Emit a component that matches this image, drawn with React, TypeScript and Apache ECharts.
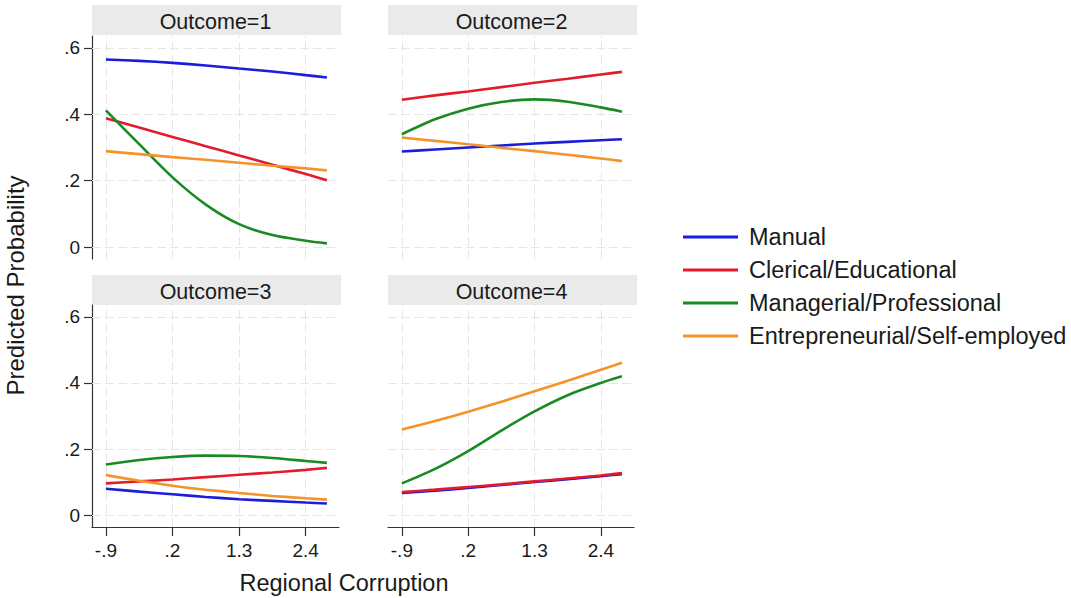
import React, { useEffect, useRef } from "react";
import * as echarts from "echarts";

// ---- data ----
const xPoints = [-0.9, -0.35, 0.2, 0.75, 1.3, 1.85, 2.4, 2.75];
const groups = [
  "Manual",
  "Clerical/Educational",
  "Managerial/Professional",
  "Entrepreneurial/Self-employed",
];
const panelTitles = ["Outcome=1", "Outcome=2", "Outcome=3", "Outcome=4"];
const xTicks = [-0.9, 0.2, 1.3, 2.4];
const yTicks = [0, 0.2, 0.4, 0.6];

// rows: Manual, Clerical, Managerial, Entrepreneurial
const outcome1 = [
  [0.565, 0.561, 0.555, 0.547, 0.538, 0.529, 0.518, 0.511],
  [0.388, 0.36, 0.332, 0.304, 0.276, 0.248, 0.22, 0.201],
  [0.412, 0.31, 0.21, 0.128, 0.069, 0.036, 0.019, 0.011],
  [0.289, 0.28, 0.271, 0.263, 0.254, 0.245, 0.237, 0.231],
];
const outcome2 = [
  [0.288, 0.294, 0.3, 0.306, 0.312, 0.317, 0.322, 0.325],
  [0.444, 0.457, 0.469, 0.482, 0.495, 0.507, 0.52, 0.528],
  [0.34, 0.385, 0.417, 0.437, 0.445, 0.438, 0.421, 0.408],
  [0.33, 0.32, 0.31, 0.299, 0.289, 0.278, 0.267, 0.259],
];
const outcome3 = [
  [0.08, 0.071, 0.063, 0.055, 0.048, 0.043, 0.038, 0.035],
  [0.096, 0.102, 0.108, 0.115, 0.122, 0.129, 0.137, 0.143],
  [0.153, 0.167, 0.176, 0.18, 0.179, 0.173, 0.164, 0.158],
  [0.121, 0.104, 0.089, 0.077, 0.067, 0.058, 0.051, 0.047],
];
const outcome4 = [
  [0.067, 0.074, 0.082, 0.091, 0.1, 0.109, 0.118, 0.124],
  [0.07, 0.077, 0.085, 0.093, 0.102, 0.111, 0.12, 0.127],
  [0.096, 0.14, 0.194, 0.256, 0.314, 0.363, 0.4, 0.42],
  [0.259, 0.285, 0.313, 0.343, 0.375, 0.407, 0.44, 0.461],
];
const panels = [outcome1, outcome2, outcome3, outcome4];

// ---- style / layout ----
const colors = ["#1c1cdc", "#e31b2b", "#1a8a22", "#f5922a"];
const FONT = "'Liberation Sans', Arial, Helvetica, sans-serif";
const grids = [
  { left: 92, top: 36, width: 247, height: 223 },
  { left: 388, top: 36, width: 246, height: 223 },
  { left: 92, top: 305, width: 247, height: 222 },
  { left: 388, top: 305, width: 246, height: 222 },
];
const headers = [
  { x: 92, y: 5, w: 249, h: 30 },
  { x: 388, y: 5, w: 249, h: 30 },
  { x: 92, y: 275, w: 249, h: 30 },
  { x: 388, y: 275, w: 249, h: 30 },
];

const fmt = (v: number) => {
  if (Math.abs(v) < 1e-9) return "0";
  const s = String(Math.round(v * 10) / 10);
  return s.replace(/^0\./, ".").replace(/^-0\./, "-.");
};

const gridLineStyle = { color: "#e6e6e6", width: 1, type: [9, 4] as any };

export default function App() {
  const ref = useRef<HTMLDivElement>(null);
  useEffect(() => {
    if (!ref.current) return;
    const chart = echarts.init(ref.current, undefined, { renderer: "svg" });

    const xAxis = grids.map((_, i) => {
      const bottom = i >= 2;
      return {
        type: "value",
        gridIndex: i,
        min: -1.13,
        max: 2.95,
        axisLine: { show: bottom, onZero: false, lineStyle: { color: "#333", width: 1.2 } },
        axisTick: {
          show: bottom,
          customValues: xTicks,
          length: 9,
          lineStyle: { color: "#333", width: 1.2 },
        },
        axisLabel: {
          show: bottom,
          customValues: xTicks,
          formatter: fmt,
          fontSize: 19,
          color: "#1a1a1a",
          fontFamily: FONT,
          margin: 14,
        },
        splitLine: { show: false },
      };
    });
    const yAxis = grids.map((_, i) => {
      const left = i % 2 === 0;
      return {
        type: "value",
        gridIndex: i,
        min: -0.036,
        max: 0.636,
        axisLine: { show: left, onZero: false, lineStyle: { color: "#333", width: 1.2 } },
        axisTick: {
          show: left,
          customValues: yTicks,
          length: 8,
          lineStyle: { color: "#333", width: 1.2 },
        },
        axisLabel: {
          show: left,
          customValues: yTicks,
          formatter: fmt,
          fontSize: 19,
          color: "#1a1a1a",
          fontFamily: FONT,
          margin: 12,
        },
        splitLine: { show: false },
      };
    });

    const series: any[] = [];
    panels.forEach((vals, p) => {
      series.push({
        type: "line",
        xAxisIndex: p,
        yAxisIndex: p,
        data: [],
        silent: true,
        z: 1,
        markLine: {
          silent: true,
          z: 1,
          symbol: ["none", "none"],
          label: { show: false },
          lineStyle: gridLineStyle,
          emphasis: { disabled: true },
          data: [
            ...yTicks.map((v) => ({ yAxis: v })),
            ...xTicks.map((v) => ({ xAxis: v })),
          ],
        },
      });
      vals.forEach((row, g) => {
        series.push({
          type: "line",
          name: groups[g],
          xAxisIndex: p,
          yAxisIndex: p,
          data: xPoints.map((x, k) => [x, row[k]]),
          smooth: 0.3,
          symbol: "none",
          z: 2 + g,
          lineStyle: { color: colors[g], width: 2.6 },
          itemStyle: { color: colors[g] },
        });
      });
    });

    const graphic: any[] = [];
    headers.forEach((h, i) => {
      graphic.push({
        type: "rect",
        shape: { x: h.x, y: h.y, width: h.w, height: h.h },
        style: { fill: "#eaeaea" },
        silent: true,
      });
      graphic.push({
        type: "text",
        x: h.x + h.w / 2 - 1,
        y: h.y + h.h / 2 + 2,
        style: {
          text: panelTitles[i],
          fontSize: 21.5,
          fontFamily: FONT,
          fill: "#1a1a1a",
          align: "center",
          verticalAlign: "middle",
        },
        silent: true,
      });
    });
    graphic.push({
      type: "text",
      x: 15,
      y: 285.5,
      rotation: Math.PI / 2,
      style: {
        text: "Predicted Probability",
        fontSize: 24,
        fontFamily: FONT,
        fill: "#1a1a1a",
        align: "center",
        verticalAlign: "middle",
      },
      silent: true,
    });
    graphic.push({
      type: "text",
      x: 344,
      y: 583,
      style: {
        text: "Regional Corruption",
        fontSize: 23.5,
        fontFamily: FONT,
        fill: "#1a1a1a",
        align: "center",
        verticalAlign: "middle",
      },
      silent: true,
    });

    chart.setOption({
      animation: false,
      backgroundColor: "#ffffff",
      textStyle: { fontFamily: FONT },
      grid: grids.map((g) => ({ ...g, containLabel: false })),
      xAxis,
      yAxis,
      legend: {
        data: groups,
        orient: "vertical",
        left: 678,
        top: 215.5,
        icon: "rect",
        itemWidth: 55,
        itemHeight: 3,
        itemGap: 0,
        selectedMode: false,
        textStyle: {
          fontSize: 23.5,
          lineHeight: 33,
          color: "#1a1a1a",
          fontFamily: FONT,
          padding: [0, 0, 0, 6],
        },
      },
      series,
      graphic,
    });
    return () => chart.dispose();
  }, []);
  return (
    <div
      ref={ref}
      style={{ position: "fixed", left: 0, top: 0, width: 1071, height: 598, background: "#fff" }}
    />
  );
}
